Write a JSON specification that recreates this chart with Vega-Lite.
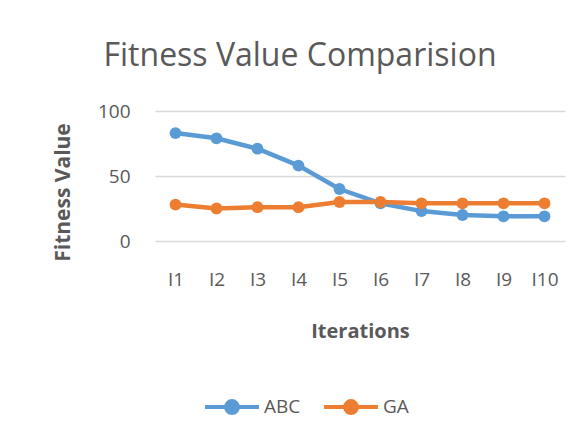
{
  "$schema": "https://vega.github.io/schema/vega-lite/v6.json",
  "width": 410,
  "height": 130,
  "autosize": {"type": "none"},
  "padding": {"left": 155, "top": 111, "right": 22, "bottom": 194},
  "background": "white",
  "title": {
    "text": "Fitness Value Comparision",
    "font": "Open Sans",
    "fontSize": 32,
    "fontWeight": "normal",
    "color": "#595959",
    "anchor": "middle",
    "frame": "group",
    "dx": -60,
    "offset": 29
  },
  "data": {
    "values": [
      {"iter": "I1", "series": "ABC", "value": 83},
      {"iter": "I2", "series": "ABC", "value": 79},
      {"iter": "I3", "series": "ABC", "value": 71},
      {"iter": "I4", "series": "ABC", "value": 58},
      {"iter": "I5", "series": "ABC", "value": 40},
      {"iter": "I6", "series": "ABC", "value": 29},
      {"iter": "I7", "series": "ABC", "value": 23},
      {"iter": "I8", "series": "ABC", "value": 20},
      {"iter": "I9", "series": "ABC", "value": 19},
      {"iter": "I10", "series": "ABC", "value": 19},
      {"iter": "I1", "series": "GA", "value": 28},
      {"iter": "I2", "series": "GA", "value": 25},
      {"iter": "I3", "series": "GA", "value": 26},
      {"iter": "I4", "series": "GA", "value": 26},
      {"iter": "I5", "series": "GA", "value": 30},
      {"iter": "I6", "series": "GA", "value": 30},
      {"iter": "I7", "series": "GA", "value": 29},
      {"iter": "I8", "series": "GA", "value": 29},
      {"iter": "I9", "series": "GA", "value": 29},
      {"iter": "I10", "series": "GA", "value": 29}
    ]
  },
  "mark": {"type": "line", "strokeWidth": 4.5, "point": {"filled": true, "size": 140}},
  "encoding": {
    "x": {
      "field": "iter",
      "type": "ordinal",
      "sort": null,
      "scale": {"type": "point", "padding": 0.5},
      "axis": {
        "title": "Iterations",
        "labelAngle": 0,
        "domain": false,
        "ticks": false,
        "grid": false,
        "labelPadding": 29,
        "labelFont": "Open Sans",
        "labelFontSize": 19,
        "labelColor": "#595959",
        "titleFont": "Open Sans",
        "titleFontSize": 20,
        "titleFontWeight": "bold",
        "titleColor": "#595959",
        "titlePadding": 32
      }
    },
    "y": {
      "field": "value",
      "type": "quantitative",
      "scale": {"domain": [0, 100]},
      "axis": {
        "title": "Fitness Value",
        "values": [0, 50, 100],
        "domain": false,
        "ticks": false,
        "gridColor": "#D9D9D9",
        "gridWidth": 1.3,
        "labelPadding": 25,
        "labelFont": "Open Sans",
        "labelFontSize": 19,
        "labelColor": "#595959",
        "titleFont": "Open Sans",
        "titleFontSize": 21,
        "titleFontWeight": "bold",
        "titleColor": "#595959",
        "titlePadding": 24,
        "titleY": 81
      }
    },
    "color": {
      "field": "series",
      "type": "nominal",
      "scale": {"domain": ["ABC", "GA"], "range": ["#5B9BD5", "#ED7D31"]},
      "legend": {
        "title": null,
        "orient": "none",
        "direction": "horizontal",
        "legendX": 48,
        "legendY": 267,
        "labelFont": "Open Sans",
        "labelFontSize": 19,
        "labelColor": "#595959",
        "symbolType": "M-1,0H1M-0.22,0A0.22,0.22 0 1,0 0.22,0A0.22,0.22 0 1,0 -0.22,0",
        "symbolSize": 2900,
        "symbolStrokeWidth": 4,
        "symbolOpacity": 1,
        "columnPadding": 15,
        "labelOffset": 3,
        "encode": {
          "symbols": {"update": {"fill": {"scale": "color", "field": "value"}}}
        }
      }
    }
  },
  "config": {"view": {"stroke": null}}
}
